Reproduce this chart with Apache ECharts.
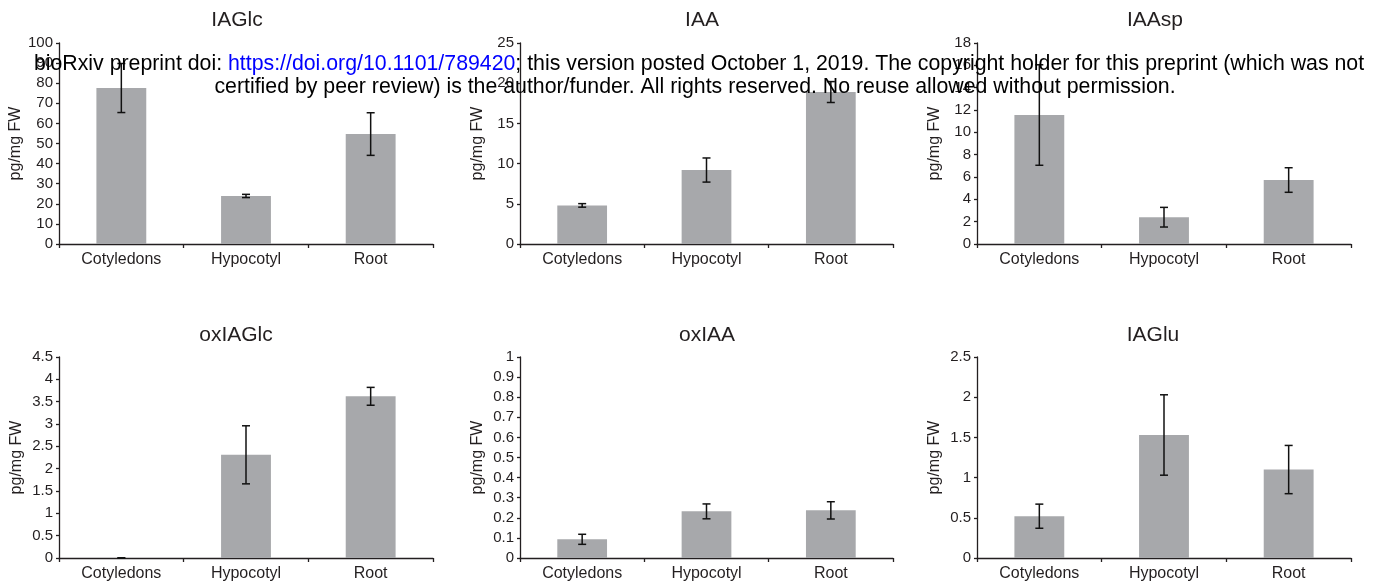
<!DOCTYPE html>
<html>
<head>
<meta charset="utf-8">
<script src="https://cdn.jsdelivr.net/npm/echarts@6/dist/echarts.min.js"></script>
<style>
html,body{margin:0;padding:0;background:#fff;}
#c{width:1386px;height:586px;}
</style>
</head>
<body>
<div id="c"></div>
<script>
const categories = ['Cotyledons', 'Hypocotyl', 'Root'];
const panelTitles = ['IAGlc', 'IAA', 'IAAsp', 'oxIAGlc', 'oxIAA', 'IAGlu'];
const yAxisName = 'pg/mg FW';

const iaglcMean = [77.6, 23.9, 54.7];
const iaglcErr  = [12.2, 0.8, 10.6];
const iaaMean   = [4.8, 9.2, 18.9];
const iaaErr    = [0.22, 1.5, 1.3];
const iaaspMean = [11.55, 2.4, 5.73];
const iaaspErr  = [4.5, 0.88, 1.1];
const oxiaglcMean = [0, 2.31, 3.62];
const oxiaglcErr  = [0.005, 0.65, 0.2];
const oxiaaMean = [0.093, 0.232, 0.237];
const oxiaaErr  = [0.025, 0.037, 0.043];
const iagluMean = [0.52, 1.53, 1.10];
const iagluErr  = [0.15, 0.5, 0.3];

const yMax = [100, 25, 18, 4.5, 1, 2.5];
const yInterval = [10, 5, 2, 0.5, 0.1, 0.5];

const watermarkLink = 'https://doi.org/10.1101/789420';
const watermarkLine1a = 'bioRxiv preprint doi: ';
const watermarkLine1b = '; this version posted October 1, 2019. The copyright holder for this preprint (which was not';
const watermarkLine2 = 'certified by peer review) is the author/funder. All rights reserved. No reuse allowed without permission.';

const means = [iaglcMean, iaaMean, iaaspMean, oxiaglcMean, oxiaaMean, iagluMean];
const errs = [iaglcErr, iaaErr, iaaspErr, oxiaglcErr, oxiaaErr, iagluErr];

const FONT = '"Liberation Sans", Arial, Helvetica, sans-serif';
const TXT = '#231f20';
const gridsPos = [
  {left: 59, width: 374, top: 43, height: 201},
  {left: 520, width: 373, top: 43, height: 201},
  {left: 977, width: 374, top: 43, height: 201},
  {left: 59, width: 374, top: 357, height: 201},
  {left: 520, width: 373, top: 357, height: 201},
  {left: 977, width: 374, top: 357, height: 201}
];
const titlePos = [
  {x: 237, y: 20}, {x: 702, y: 20}, {x: 1155, y: 20},
  {x: 236, y: 335}, {x: 707, y: 335}, {x: 1153, y: 335}
];

const grid = [], xAxis = [], yAxis = [], series = [], graphic = [];
for (let i = 0; i < 6; i++) {
  grid.push(Object.assign({containLabel: false}, gridsPos[i]));
  xAxis.push({
    type: 'category', gridIndex: i, data: categories, boundaryGap: true,
    axisLine: {lineStyle: {color: '#231f20', width: 1.3}},
    axisTick: {show: true, length: 4, lineStyle: {color: '#231f20', width: 1.3}},
    axisLabel: {color: TXT, fontFamily: FONT, fontSize: 16, margin: 8}
  });
  yAxis.push({
    type: 'value', gridIndex: i, min: 0, max: yMax[i], interval: yInterval[i],
    name: yAxisName, nameLocation: 'middle', nameGap: 34,
    nameTextStyle: {color: TXT, fontFamily: FONT, fontSize: 16},
    splitLine: {show: false},
    axisLine: {show: true, lineStyle: {color: '#231f20', width: 1.3}},
    axisTick: {show: true, length: 3, lineStyle: {color: '#231f20', width: 1.3}},
    axisLabel: {color: TXT, fontFamily: FONT, fontSize: 15, margin: 6}
  });
  series.push({
    type: 'bar', xAxisIndex: i, yAxisIndex: i, data: means[i], barWidth: '40%',
    itemStyle: {color: '#a7a8ab'}, silent: true
  });
  const m = means[i], e = errs[i];
  series.push({
    type: 'custom', xAxisIndex: i, yAxisIndex: i,
    data: m.map((v, k) => [k, v - e[k], v + e[k]]),
    z: 10,
    renderItem: function (params, api) {
      const x = api.value(0);
      const lo = api.coord([x, api.value(1)]);
      const hi = api.coord([x, api.value(2)]);
      const hw = 4;
      const st = {stroke: '#111', lineWidth: 1.5};
      return {
        type: 'group',
        children: [
          {type: 'line', shape: {x1: lo[0], y1: lo[1], x2: hi[0], y2: hi[1]}, style: st},
          {type: 'line', shape: {x1: lo[0] - hw, y1: lo[1], x2: lo[0] + hw, y2: lo[1]}, style: st},
          {type: 'line', shape: {x1: hi[0] - hw, y1: hi[1], x2: hi[0] + hw, y2: hi[1]}, style: st}
        ]
      };
    }
  });
  graphic.push({
    type: 'text', x: titlePos[i].x, y: titlePos[i].y,
    style: {text: panelTitles[i], fill: TXT, font: '21px ' + FONT, align: 'center', verticalAlign: 'middle'}
  });
}

graphic.push({
  type: 'text', x: 699, y: 64, z: 100,
  style: {
    text: '{a|' + watermarkLine1a + '}{b|' + watermarkLink + '}{a|' + watermarkLine1b + '}',
    align: 'center', verticalAlign: 'middle',
    rich: {
      a: {fill: '#000', fontFamily: FONT, fontSize: 21.3},
      b: {fill: '#0000ff', fontFamily: FONT, fontSize: 21.3}
    }
  }
});
graphic.push({
  type: 'text', x: 695, y: 87, z: 100,
  style: {text: watermarkLine2, fill: '#000', font: '21.3px ' + FONT, align: 'center', verticalAlign: 'middle'}
});

const chart = echarts.init(document.getElementById('c'), null, {renderer: 'canvas'});
chart.setOption({
  animation: false,
  backgroundColor: '#fff',
  grid, xAxis, yAxis, series, graphic
});
</script>
</body>
</html>
